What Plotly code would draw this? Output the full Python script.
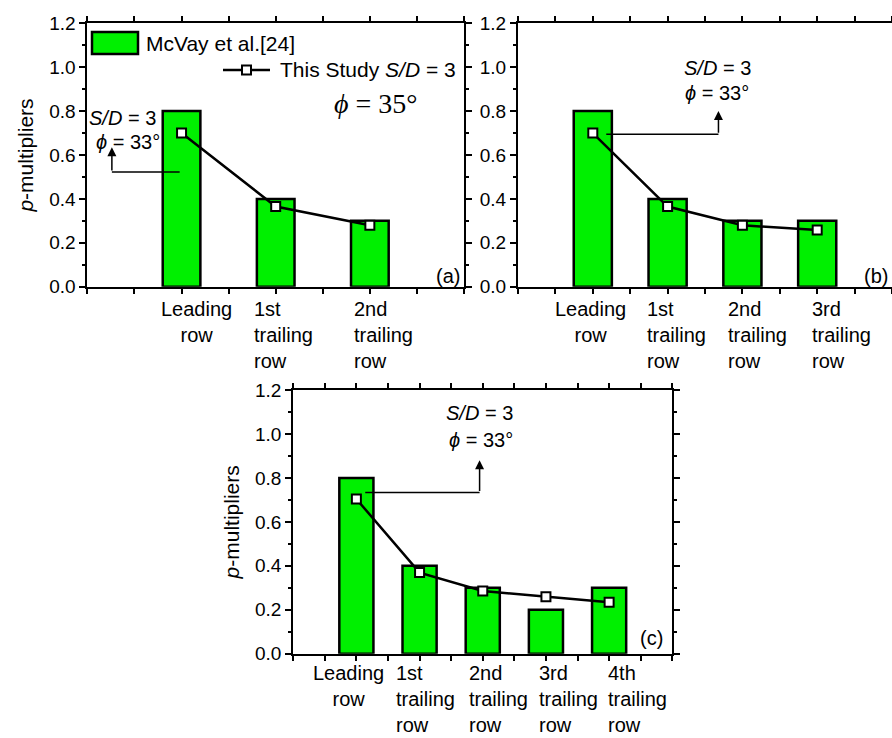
import plotly.graph_objects as go

# ---------------- data ----------------
labels_a = ["Leading<br>row", "1st<br>trailing<br>row", "2nd<br>trailing<br>row"]
labels_b = labels_a + ["3rd<br>trailing<br>row"]
labels_c = labels_b + ["4th<br>trailing<br>row"]

mcvay_a = [0.8, 0.4, 0.3]
mcvay_b = [0.8, 0.4, 0.3, 0.3]
mcvay_c = [0.8, 0.4, 0.3, 0.2, 0.3]

study_a = [0.70, 0.365, 0.28]
study_b = [0.70, 0.365, 0.28, 0.258]
study_c = [0.704, 0.369, 0.285, 0.259, 0.234]

y_ticks = [0.0, 0.2, 0.4, 0.6, 0.8, 1.0, 1.2]

# ---------------- style ----------------
W, H = 892, 738
GREEN = "#00F000"
FONT = "Liberation Sans, Arial, sans-serif"
SERIF = "Liberation Serif, Times New Roman, serif"
FS = 20


def fx(p):
    return p / W


def fy(p):
    return 1 - p / H


panels = [
    dict(name="a", labels=labels_a, bars=mcvay_a, line=study_a,
         xdom=[fx(87.4), fx(464)], ydom=[fy(286.7), fy(23.3)], xmax=4,
         barw=0.4, lab_top=297, mirror_y="ticks",
         shifts=[15, 8, 14]),
    dict(name="b", labels=labels_b, bars=mcvay_b, line=study_b,
         xdom=[fx(518), 1.0], ydom=[fy(286.7), fy(23.3)], xmax=5,
         barw=0.51, lab_top=297, mirror_y=False,
         shifts=[-2, 9, 15, 24]),
    dict(name="c", labels=labels_c, bars=mcvay_c, line=study_c,
         xdom=[fx(293.2), fx(672.3)], ydom=[fy(653.7), fy(390)], xmax=6,
         barw=0.54, lab_top=661, mirror_y="ticks",
         shifts=[-8, 6, 16, 23, 28]),
]

fig = go.Figure()
annotations = []
shapes = []

for i, p in enumerate(panels):
    k = "" if i == 0 else str(i + 1)
    xa, ya = "x" + k, "y" + k
    xs = list(range(1, len(p["labels"]) + 1))
    fig.add_trace(go.Bar(
        x=xs, y=p["bars"], width=p["barw"], xaxis=xa, yaxis=ya,
        marker=dict(color=GREEN, line=dict(color="black", width=2.5)),
        name="McVay et al.[24]", showlegend=False))
    fig.add_trace(go.Scatter(
        x=xs, y=p["line"], xaxis=xa, yaxis=ya, mode="lines+markers",
        line=dict(color="black", width=2.5),
        marker=dict(symbol="square", size=9, color="white",
                    line=dict(color="black", width=2)),
        name="This Study S/D = 3", showlegend=False))

    fig.layout["xaxis" + k] = dict(
        domain=p["xdom"], range=[0, p["xmax"]], anchor=ya, automargin=False,
        tickmode="linear", tick0=0, dtick=0.5, ticks="outside", ticklen=5,
        tickwidth=1.5, tickcolor="black", showticklabels=False,
        showline=True, linewidth=2, linecolor="black", mirror="ticks",
        showgrid=False, zeroline=False)
    yax = dict(
        domain=p["ydom"], range=[0, 1.2], anchor=xa, automargin=False,
        tickmode="array", tickvals=y_ticks, tickformat=".1f",
        ticks="outside", ticklen=6, tickwidth=1.5, tickcolor="black",
        minor=dict(dtick=0.1, tick0=0, ticks="outside", ticklen=3,
                   tickwidth=1.5, tickcolor="black"),
        tickfont=dict(family=FONT, size=19, color="black"),
        showline=True, linewidth=2, linecolor="black", mirror=p["mirror_y"],
        showgrid=False, zeroline=False)
    if p["name"] in ("a", "c"):
        yax["title"] = dict(text="<i>p</i>-multipliers",
                            font=dict(family=FONT, size=21, color="black"),
                            standoff=10)
    fig.layout["yaxis" + k] = yax

    # category labels
    for j, lab in enumerate(p["labels"]):
        annotations.append(dict(
            x=xs[j], xref=xa, y=fy(p["lab_top"]), yref="paper",
            text=lab, showarrow=False, xanchor="center", yanchor="top",
            borderpad=0,
            align="center" if j == 0 else "left", xshift=p["shifts"][j],
            font=dict(family=FONT, size=FS, color="black")))

# panel letters
for txt, xr, yc in [("(a)", 462, 276), ("(b)", 890, 276), ("(c)", 665, 638)]:
    annotations.append(dict(x=fx(xr), y=fy(yc), xref="paper", yref="paper",
                            text=txt, showarrow=False, xanchor="right",
                            yanchor="middle",
                            font=dict(family=FONT, size=FS, color="black")))

# S/D and phi notes
notes = [
    ("<i>S/D</i> = 3", fx(87), fy(118), "left"),
    ("<i>ϕ</i> = 33°", fx(94), fy(142), "left"),
    ("<i>S/D</i> = 3", fx(717), fy(68), "center"),
    ("<i>ϕ</i> = 33°", fx(717), fy(93), "center"),
    ("<i>S/D</i> = 3", fx(479), fy(413), "center"),
    ("<i>ϕ</i> = 33°", fx(481), fy(440), "center"),
]
for txt, x, y, anc in notes:
    annotations.append(dict(x=x, y=y, xref="paper", yref="paper", text=txt,
                            showarrow=False, xanchor=anc, yanchor="middle",
                            font=dict(family=FONT, size=FS, color="black")))
annotations.append(dict(x=fx(332), y=fy(103), xref="paper", yref="paper",
                        text="<i>ϕ</i> = 35°", showarrow=False, xanchor="left",
                        yanchor="middle",
                        font=dict(family=SERIF, size=28, color="black")))

# elbow arrows (horizontal segment + vertical arrow)
elbows = [("x", "y", 0.98, 0.26, 0.523, 0.635),
          ("x2", "y2", 1.18, 2.68, 0.694, 0.80),
          ("x3", "y3", 1.14, 2.95, 0.733, 0.88)]
for xa, ya, x0, x1, yh, ytop in elbows:
    shapes.append(dict(type="line", xref=xa, yref=ya, x0=x0, x1=x1,
                       y0=yh, y1=yh, line=dict(color="black", width=1.5)))
    annotations.append(dict(x=x1, y=ytop, xref=xa, yref=ya, ax=x1, ay=yh,
                            axref=xa, ayref=ya, text="", showarrow=True,
                            arrowhead=2, arrowsize=1.2, arrowwidth=1.5,
                            arrowcolor="black", standoff=0, startstandoff=0))

# legend (drawn manually in panel a)
shapes.append(dict(type="rect", xref="paper", yref="paper",
                   x0=fx(92), x1=fx(138), y0=fy(54), y1=fy(32),
                   fillcolor=GREEN, line=dict(color="black", width=2.5)))
annotations.append(dict(x=fx(144), y=fy(43), xref="paper", yref="paper",
                        text="McVay et al.[24]", showarrow=False,
                        xanchor="left", yanchor="middle",
                        font=dict(family=FONT, size=21, color="black")))
shapes.append(dict(type="line", xref="paper", yref="paper",
                   x0=fx(223), x1=fx(270), y0=fy(70), y1=fy(70),
                   line=dict(color="black", width=2.5)))
shapes.append(dict(type="rect", xref="paper", yref="paper",
                   x0=fx(242), x1=fx(251), y0=fy(74.5), y1=fy(65.5),
                   fillcolor="white", line=dict(color="black", width=2)))
annotations.append(dict(x=fx(278), y=fy(70), xref="paper", yref="paper",
                        text="This Study <i>S/D</i> = 3", showarrow=False,
                        xanchor="left", yanchor="middle",
                        font=dict(family=FONT, size=21, color="black")))

fig.update_layout(
    width=W, height=H, margin=dict(l=0, r=0, t=0, b=0, pad=0),
    paper_bgcolor="white", plot_bgcolor="white", showlegend=False,
    annotations=annotations, shapes=shapes,
    font=dict(family=FONT, size=FS, color="black"))

fig.write_html(
    "out.html",
    config={"displayModeBar": False},
    post_script="document.body.style.margin='0px';"
                "document.documentElement.style.overflow='hidden';")
